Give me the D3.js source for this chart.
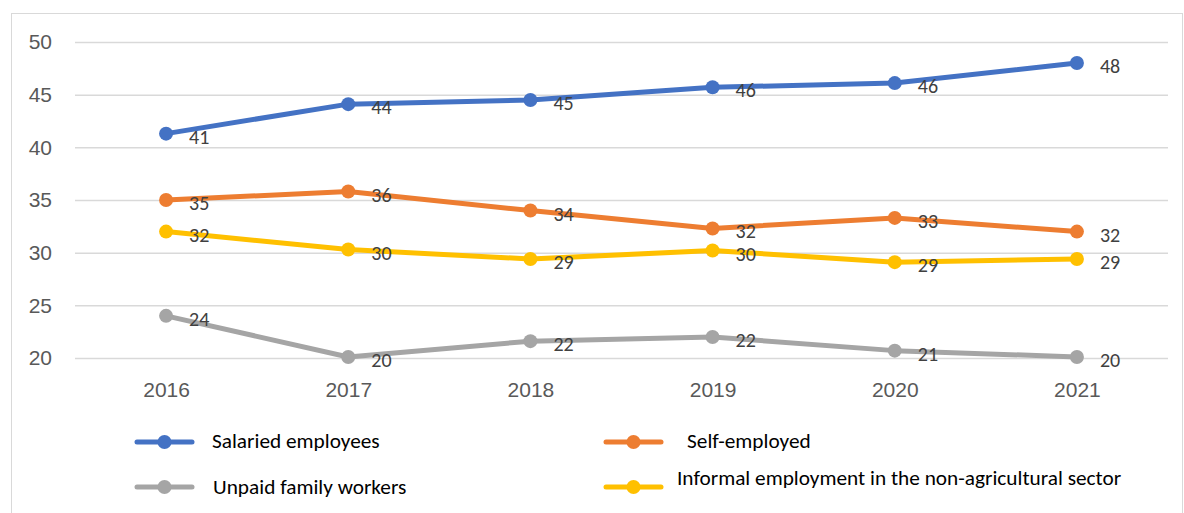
<!DOCTYPE html>
<html>
<head>
<meta charset="utf-8">
<script src="https://cdn.jsdelivr.net/npm/d3@7"></script>
<style>
  html, body { margin: 0; padding: 0; background: #fff; }
  svg { display: block; font-family: Carlito, Calibri, Lato, "Liberation Sans", sans-serif; }
</style>
</head>
<body>
<svg id="chart" width="1184" height="513"></svg>
<script>
// Employment structure shares, 2016–2021
const years = ["2016", "2017", "2018", "2019", "2020", "2021"];
const salaried = [41.3, 44.1, 44.5, 45.7, 46.1, 48.0];
const selfEmployed = [35.0, 35.8, 34.0, 32.3, 33.3, 32.0];
const informalNonAgri = [32.0, 30.3, 29.4, 30.2, 29.1, 29.4];
const unpaidFamily = [24.0, 20.1, 21.6, 22.0, 20.7, 20.1];
const yTicks = [20, 25, 30, 35, 40, 45, 50];

const series = [
  { name: "Salaried employees", values: salaried, color: "#4472C4" },
  { name: "Self-employed", values: selfEmployed, color: "#ED7D31" },
  { name: "Informal employment in the non-agricultural sector", values: informalNonAgri, color: "#FFC000" },
  { name: "Unpaid family workers", values: unpaidFamily, color: "#A5A5A5" }
];

const svg = d3.select("#chart");

// outer chart frame
svg.append("rect")
  .attr("x", 11.5).attr("y", 13.5)
  .attr("width", 1171).attr("height", 520)
  .attr("fill", "none").attr("stroke", "#d9d9d9").attr("stroke-width", 1);

const x = d3.scalePoint().domain(years).range([75, 1168]).padding(0.5);
const y = d3.scaleLinear().domain([20, 50]).range([358, 42]);

// horizontal gridlines + y labels
const yAxis = svg.append("g").attr("transform", "translate(75,0)")
  .call(d3.axisLeft(y).tickValues(yTicks).tickSize(-1093).tickPadding(23));
yAxis.select(".domain").remove();
yAxis.selectAll(".tick line").attr("stroke", "#d9d9d9").attr("stroke-width", 1.5);
yAxis.selectAll(".tick text")
  .attr("fill", "#595959").attr("font-size", 21).style("font-family", "inherit");

// x labels
const xAxis = svg.append("g").attr("transform", "translate(0,358)")
  .call(d3.axisBottom(x).tickSize(0).tickPadding(0));
xAxis.select(".domain").remove();
xAxis.selectAll(".tick text")
  .attr("fill", "#595959").attr("font-size", 21).style("font-family", "inherit")
  .attr("dy", null).attr("y", 39);

const line = d3.line().x((d, i) => x(years[i])).y(d => y(d));

// draw in back-to-front order
const order = [series[3], series[2], series[1], series[0]];
order.forEach(s => {
  const g = svg.append("g");
  g.append("path").datum(s.values)
    .attr("d", line)
    .attr("fill", "none").attr("stroke", s.color)
    .attr("stroke-width", 5).attr("stroke-linejoin", "round").attr("stroke-linecap", "round");
  g.selectAll("circle").data(s.values).enter().append("circle")
    .attr("cx", (d, i) => x(years[i])).attr("cy", d => y(d))
    .attr("r", 7).attr("fill", s.color);
});
order.forEach(s => {
  svg.append("g").selectAll("text").data(s.values).enter().append("text")
    .attr("x", (d, i) => x(years[i]) + 23).attr("y", d => y(d) + 10)
    .attr("font-size", 20).attr("fill", "#404040")
    .text(d => Math.round(d));
});

// legend
const legendItems = [
  { s: series[0], lx: 137, ly: 442, tx: 212, ty: 448 },
  { s: series[1], lx: 606, ly: 442, tx: 687, ty: 448 },
  { s: series[3], lx: 137, ly: 487, tx: 213, ty: 494 },
  { s: series[2], lx: 606, ly: 487, tx: 677, ty: 485 }
];
const lg = svg.append("g");
legendItems.forEach(it => {
  lg.append("line")
    .attr("x1", it.lx).attr("x2", it.lx + 55).attr("y1", it.ly).attr("y2", it.ly)
    .attr("stroke", it.s.color).attr("stroke-width", 5).attr("stroke-linecap", "round");
  lg.append("circle").attr("cx", it.lx + 27.5).attr("cy", it.ly).attr("r", 7).attr("fill", it.s.color);
  lg.append("text").attr("x", it.tx).attr("y", it.ty)
    .attr("font-size", 21.3).attr("fill", "#000").text(it.s.name);
});
</script>
</body>
</html>
